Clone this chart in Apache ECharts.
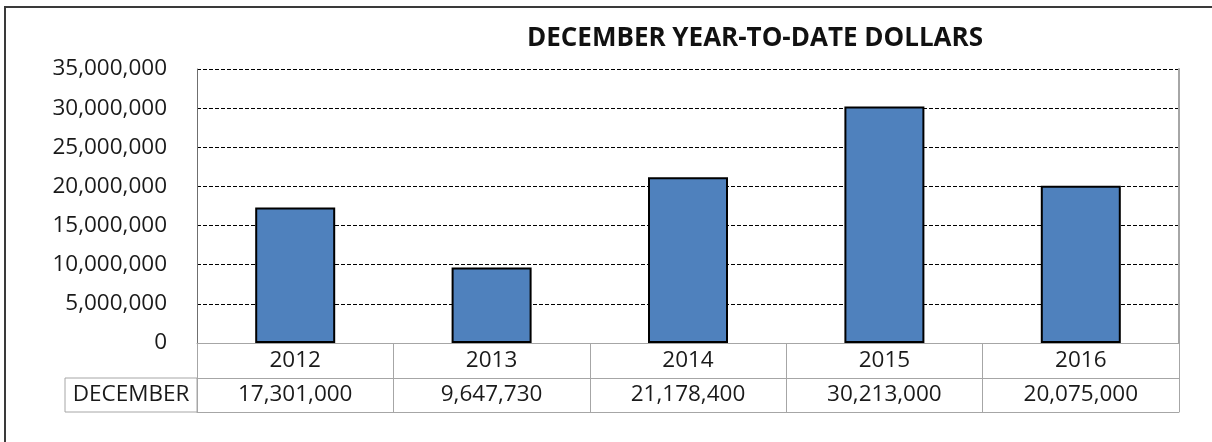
<!DOCTYPE html>
<html>
<head>
<meta charset="utf-8">
<title>December YTD Dollars</title>
<script src="https://cdn.jsdelivr.net/npm/echarts@6/dist/echarts.min.js"></script>
<style>
  html, body { margin: 0; padding: 0; background: #fff; }
  #chart { width: 1212px; height: 442px; }
</style>
</head>
<body>
<div id="chart"></div>
<script>
// chart data
const years = ['2012', '2013', '2014', '2015', '2016']
const december = [17301000, 9647730, 21178400, 30213000, 20075000]
const rowLabel = 'DECEMBER'
const titleText = 'DECEMBER YEAR-TO-DATE DOLLARS'

const fmt = v => Number(v).toLocaleString('en-US')
const font = '"Open Sans", "DejaVu Sans", sans-serif'
const fontSize = 22.5
const textColor = '#1a1a1a'
const tableLine = '#a6a6a6'

// grid / table geometry
const gridLeft = 197
const gridTop = 69
const gridRight = 33
const gridBottom = 99
const rowH = 35

const chart = echarts.init(document.getElementById('chart'))

chart.setOption({
  animation: false,
  textStyle: { fontFamily: font },
  title: {
    text: titleText,
    left: 750,
    top: 21,
    textAlign: 'center',
    textStyle: { fontFamily: font, fontSize: 26, fontWeight: 'bold', color: '#111' }
  },
  grid: {
    left: gridLeft,
    right: gridRight,
    top: gridTop,
    bottom: gridBottom,
    containLabel: false
  },
  xAxis: [
    {
      type: 'category',
      data: years,
      position: 'bottom',
      axisLine: { onZero: false, lineStyle: { color: tableLine, width: 1 } },
      axisTick: { show: true, length: rowH, lineStyle: { color: tableLine } },
      axisLabel: {
        margin: 0,
        lineHeight: rowH,
        fontSize: fontSize,
        color: textColor,
        fontFamily: font
      }
    },
    {
      type: 'category',
      data: december.map(fmt),
      position: 'bottom',
      offset: rowH,
      axisLine: { onZero: false, lineStyle: { color: tableLine, width: 1 } },
      axisTick: { show: true, length: rowH - 1, lineStyle: { color: tableLine } },
      axisLabel: {
        margin: 0,
        lineHeight: rowH - 1,
        fontSize: fontSize,
        color: textColor,
        fontFamily: font
      }
    },
    {
      type: 'category',
      data: years,
      position: 'bottom',
      offset: rowH * 2 - 1,
      axisLine: { onZero: false, lineStyle: { color: tableLine, width: 1 } },
      axisTick: { show: false },
      axisLabel: { show: false }
    }
  ],
  yAxis: [
    {
      type: 'value',
      min: 0,
      max: 35000000,
      interval: 5000000,
      axisLine: { show: true, lineStyle: { color: '#6f6f6f', width: 1 } },
      axisTick: { show: false },
      axisLabel: {
        margin: 30,
        fontSize: fontSize,
        color: textColor,
        fontFamily: font,
        formatter: v => fmt(v)
      },
      splitLine: {
        show: true,
        lineStyle: { color: '#000', width: 1.2, type: [4, 2] }
      }
    },
    {
      type: 'value',
      position: 'right',
      min: 0,
      max: 35000000,
      interval: 5000000,
      axisLine: { show: true, lineStyle: { color: tableLine, width: 2 } },
      axisTick: { show: false },
      axisLabel: { show: false },
      splitLine: { show: false }
    }
  ],
  series: [
    {
      name: rowLabel,
      type: 'bar',
      data: december,
      barWidth: 80,
      itemStyle: {
        color: '#4f81bd',
        borderColor: '#000',
        borderWidth: 2
      }
    }
  ],
  graphic: [
    {
      type: 'rect',
      shape: { x: 5, y: 7, width: 1230, height: 460 },
      style: { fill: 'none', stroke: '#3a3a3a', lineWidth: 2 },
      silent: true
    },
    {
      type: 'rect',
      shape: { x: 65, y: 442 - gridBottom + rowH, width: gridLeft - 65, height: rowH - 1 },
      style: { fill: 'none', stroke: tableLine, lineWidth: 1 },
      silent: true
    },
    {
      type: 'text',
      x: (65 + gridLeft) / 2,
      y: 442 - gridBottom + rowH + (rowH - 1) / 2,
      style: {
        text: rowLabel,
        fontSize: fontSize,
        fontFamily: font,
        fill: textColor,
        textAlign: 'center',
        textVerticalAlign: 'middle'
      },
      silent: true
    }
  ]
})
</script>
</body>
</html>
